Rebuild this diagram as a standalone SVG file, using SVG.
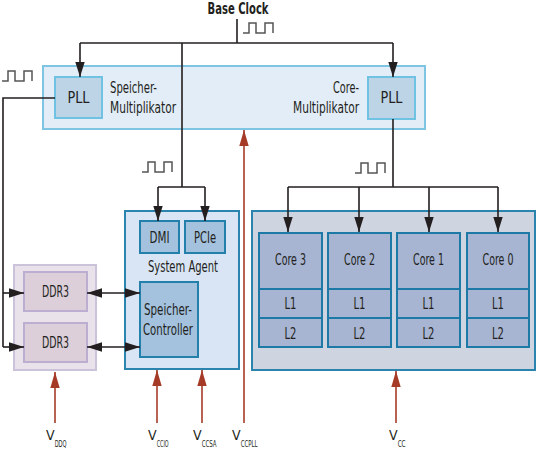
<svg xmlns="http://www.w3.org/2000/svg" width="536" height="451" viewBox="0 0 536 451">
<defs>
<style>
text{font-family:"DejaVu Sans Condensed","Liberation Sans Narrow","Liberation Sans",sans-serif;font-size:15.5px;fill:#231f20;font-stretch:condensed}
.c{text-anchor:middle}
.e{text-anchor:end}
.b{font-weight:bold;font-size:15px}
.v{font-size:14px}
.sub{font-size:8.5px}
.ln{fill:none;stroke:#231f20;stroke-width:1.6}
.red{fill:none;stroke:#a53b27;stroke-width:1.6}
.clk{fill:none;stroke:#555;stroke-width:1.5}
.top{fill:#e2edf8;stroke:#7ec5e4;stroke-width:2}
.pll{fill:#bcd4e6;stroke:#70c2e2;stroke-width:2}
.sa{fill:#d9e5f4;stroke:#2b84ad;stroke-width:2}
.sab{fill:#a4c2de;stroke:#2380ab;stroke-width:2}
.cores{fill:#cfd4e1;stroke:#2b84ad;stroke-width:2}
.core{fill:#a7b5d3;stroke:#1d7aa6;stroke-width:2}
.ddro{fill:#e9e2ea;stroke:#cbc3da;stroke-width:2}
.ddri{fill:#dccfda;stroke:#bcaed0;stroke-width:2}
</style>
<marker id="ah" markerUnits="userSpaceOnUse" markerWidth="15" markerHeight="10" refX="15" refY="5" orient="auto-start-reverse"><path d="M0,0.3 L15,5 L0,9.7 z" fill="#231f20"/></marker>
<marker id="rh" markerUnits="userSpaceOnUse" markerWidth="16" markerHeight="10" refX="16" refY="5" orient="auto"><path d="M0,0.3 L16,5 L0,9.7 z" fill="#a53b27"/></marker>
</defs>
<rect width="536" height="451" fill="#fff"/>

<g id="base-clock"><text class="c b" x="238" y="14" textLength="61" lengthAdjust="spacingAndGlyphs">Base Clock</text></g>

<g id="multiplier">
<rect class="top" x="43" y="66" width="382" height="63"/>
<text x="110" y="93" textLength="47" lengthAdjust="spacingAndGlyphs">Speicher-</text>
<text x="110" y="113" textLength="66" lengthAdjust="spacingAndGlyphs">Multiplikator</text>
<text class="e" x="359" y="93" textLength="26" lengthAdjust="spacingAndGlyphs">Core-</text>
<text class="e" x="359" y="113" textLength="66" lengthAdjust="spacingAndGlyphs">Multiplikator</text>
</g>
<g id="pll-mem"><rect class="pll" x="55" y="77" width="47" height="41"/><text class="c" x="78.5" y="103" textLength="22" lengthAdjust="spacingAndGlyphs">PLL</text></g>
<g id="pll-core"><rect class="pll" x="368" y="77" width="47" height="42"/><text class="c" x="391.5" y="103" textLength="22" lengthAdjust="spacingAndGlyphs">PLL</text></g>

<g id="ddr3">
<rect class="ddro" x="14" y="265" width="82" height="105"/>
<rect class="ddri" x="24" y="272" width="63" height="39"/>
<text class="c" x="55.5" y="297" textLength="27" lengthAdjust="spacingAndGlyphs">DDR3</text>
<rect class="ddri" x="24" y="323" width="63" height="39"/>
<text class="c" x="55.5" y="348" textLength="27" lengthAdjust="spacingAndGlyphs">DDR3</text>
</g>

<g id="system-agent">
<rect class="sa" x="125" y="211" width="114" height="158"/>
<rect class="sab" x="140" y="221" width="39" height="32"/>
<text class="c" x="159.5" y="243" textLength="20" lengthAdjust="spacingAndGlyphs">DMI</text>
<rect class="sab" x="185" y="221" width="40" height="32"/>
<text class="c" x="205" y="243" textLength="22" lengthAdjust="spacingAndGlyphs">PCIe</text>
<text class="c" x="183" y="272" textLength="70" lengthAdjust="spacingAndGlyphs">System Agent</text>
<rect class="sab" x="140" y="282" width="58" height="75"/>
<text class="c" x="168" y="315" textLength="48" lengthAdjust="spacingAndGlyphs">Speicher-</text>
<text class="c" x="168" y="335" textLength="50" lengthAdjust="spacingAndGlyphs">Controller</text>
</g>

<g id="cores">
<rect class="cores" x="252" y="211" width="283" height="159"/>
<g id="core3"><rect class="core" x="259" y="233" width="63" height="56"/><rect class="core" x="259" y="289" width="63" height="29"/><rect class="core" x="259" y="318" width="63" height="29"/>
<text class="c" x="290.5" y="265" textLength="31" lengthAdjust="spacingAndGlyphs">Core 3</text><text class="c" x="290.5" y="309" textLength="12" lengthAdjust="spacingAndGlyphs">L1</text><text class="c" x="290.5" y="339" textLength="12" lengthAdjust="spacingAndGlyphs">L2</text></g>
<g id="core2"><rect class="core" x="328" y="233" width="63" height="56"/><rect class="core" x="328" y="289" width="63" height="29"/><rect class="core" x="328" y="318" width="63" height="29"/>
<text class="c" x="359.5" y="265" textLength="31" lengthAdjust="spacingAndGlyphs">Core 2</text><text class="c" x="359.5" y="309" textLength="12" lengthAdjust="spacingAndGlyphs">L1</text><text class="c" x="359.5" y="339" textLength="12" lengthAdjust="spacingAndGlyphs">L2</text></g>
<g id="core1"><rect class="core" x="397" y="233" width="63" height="56"/><rect class="core" x="397" y="289" width="63" height="29"/><rect class="core" x="397" y="318" width="63" height="29"/>
<text class="c" x="428.5" y="265" textLength="31" lengthAdjust="spacingAndGlyphs">Core 1</text><text class="c" x="428.5" y="309" textLength="12" lengthAdjust="spacingAndGlyphs">L1</text><text class="c" x="428.5" y="339" textLength="12" lengthAdjust="spacingAndGlyphs">L2</text></g>
<g id="core0"><rect class="core" x="467" y="233" width="62" height="56"/><rect class="core" x="467" y="289" width="62" height="29"/><rect class="core" x="467" y="318" width="62" height="29"/>
<text class="c" x="498" y="265" textLength="31" lengthAdjust="spacingAndGlyphs">Core 0</text><text class="c" x="498" y="309" textLength="12" lengthAdjust="spacingAndGlyphs">L1</text><text class="c" x="498" y="339" textLength="12" lengthAdjust="spacingAndGlyphs">L2</text></g>
</g>

<g id="clocks">
<path class="clk" d="M243,33 H249 V23 H256 V33 H265 V23 H273 V33"/>
<path class="clk" d="M2,81 H8 V71 H15 V81 H24 V71 H32 V81"/>
<path class="clk" d="M142,172 H148 V162 H155 V172 H164 V162 H172 V172"/>
<path class="clk" d="M355,173 H361 V163 H368 V173 H377 V163 H385 V173"/>
</g>

<g id="connectors">
<path class="ln" d="M237,19 V43"/>
<path class="ln" d="M80,43 H393"/>
<path class="ln" d="M80,43 V77" marker-end="url(#ah)"/>
<path class="ln" d="M393,43 V77" marker-end="url(#ah)"/>
<path class="ln" d="M182,43 V187 M158,187 H205"/>
<path class="ln" d="M158,187 V221" marker-end="url(#ah)"/>
<path class="ln" d="M205,187 V221" marker-end="url(#ah)"/>
<path class="ln" d="M393,119 V187 M288,187 H498"/>
<path class="ln" d="M288,187 V232" marker-end="url(#ah)"/>
<path class="ln" d="M359,187 V232" marker-end="url(#ah)"/>
<path class="ln" d="M429,187 V232" marker-end="url(#ah)"/>
<path class="ln" d="M498,187 V232" marker-end="url(#ah)"/>
<path class="ln" d="M55,98 H3 V347"/>
<path class="ln" d="M3,293 H24" marker-end="url(#ah)"/>
<path class="ln" d="M3,347 H24" marker-end="url(#ah)"/>
<path class="ln" d="M87,293 H140" marker-start="url(#ah)" marker-end="url(#ah)"/>
<path class="ln" d="M87,347 H140" marker-start="url(#ah)" marker-end="url(#ah)"/>
<path class="red" d="M55,423 V372" marker-end="url(#rh)"/>
<path class="red" d="M157,423 V370" marker-end="url(#rh)"/>
<path class="red" d="M202,423 V370" marker-end="url(#rh)"/>
<path class="red" d="M244,423 V130" marker-end="url(#rh)"/>
<path class="red" d="M396,423 V371" marker-end="url(#rh)"/>
</g>

<g id="labels">
<text class="v" x="46" y="440">V<tspan class="sub" dy="7" textLength="12" lengthAdjust="spacingAndGlyphs">DDQ</tspan></text>
<text class="v" x="148" y="440">V<tspan class="sub" dy="7" textLength="12" lengthAdjust="spacingAndGlyphs">CCIO</tspan></text>
<text class="v" x="193" y="440">V<tspan class="sub" dy="7" textLength="15" lengthAdjust="spacingAndGlyphs">CCSA</tspan></text>
<text class="v" x="232" y="440">V<tspan class="sub" dy="7" textLength="17" lengthAdjust="spacingAndGlyphs">CCPLL</tspan></text>
<text class="v" x="389" y="440">V<tspan class="sub" dy="7" textLength="8" lengthAdjust="spacingAndGlyphs">CC</tspan></text>
</g>
</svg>
